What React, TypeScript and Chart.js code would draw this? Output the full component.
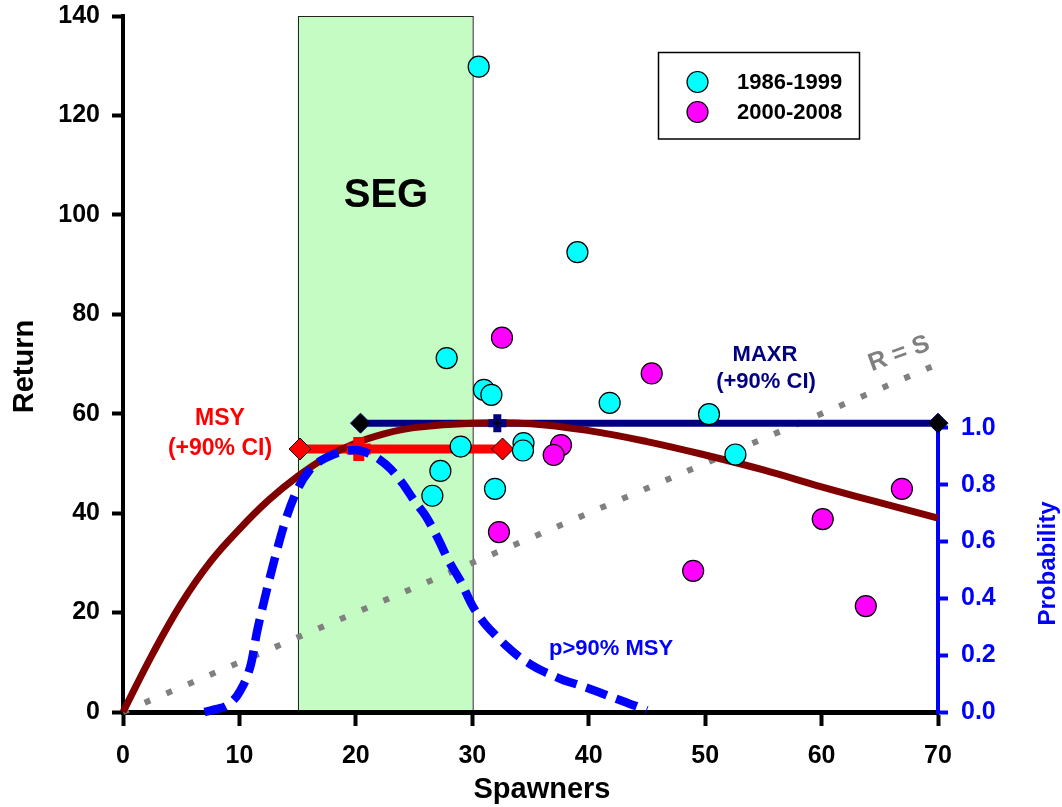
import React, { useEffect, useRef } from 'react';
import { Chart, registerables } from 'chart.js';

Chart.register(...registerables);

const FONT = '"Liberation Sans", Arial, Helvetica, sans-serif';

// Axis ticks
const spawnerTicks = [0, 10, 20, 30, 40, 50, 60, 70];
const returnTicks = [0, 20, 40, 60, 80, 100, 120, 140];
const probabilityTicks = [0, 0.2, 0.4, 0.6, 0.8, 1.0];
const probabilityAxisMax = 2.45;

// Observed brood years
const early = '1986-1999';
const earlySpawners = [30.55, 39.03, 27.8, 31.0, 31.64, 41.8, 50.33, 29.0, 34.4, 34.35, 27.26, 26.57, 31.95, 52.6];
const earlyReturns = [129.8, 92.5, 71.2, 64.8, 63.8, 62.2, 59.9, 53.4, 54.1, 52.6, 48.5, 43.5, 44.9, 51.8];
const late = '2000-2008';
const lateSpawners = [32.55, 45.41, 37.62, 36.99, 32.29, 48.97, 66.9, 60.1, 63.8];
const lateReturns = [75.3, 68.1, 53.7, 51.7, 36.2, 28.4, 44.9, 38.8, 21.3];

// Spawner-recruit curve
const curveSpawners = [0, 2.5, 5, 7.5, 10, 12.5, 15, 17.5, 20, 22.5, 25, 30, 35, 40, 45, 50, 55, 60, 65, 70];
const curveReturns = [0, 11.5, 21.8, 30.2, 36.8, 42.6, 47.4, 51.3, 54.1, 56, 57.2, 58.1, 58, 56.6, 54.4, 51.7, 48.7, 45.3, 42.1, 39];

// Probability of achieving >90% of MSY
const probSpawners = [7, 8, 9, 10, 11, 11.5, 12, 13, 14, 15, 16, 17, 18, 19, 20, 21, 22, 23, 24, 25, 26, 27, 28, 29, 30, 31, 32, 33, 34, 35, 36, 37, 38, 39, 40, 41, 42, 43, 44, 45];
const probValues = [0, 0.01, 0.025, 0.07, 0.17, 0.28, 0.37, 0.535, 0.68, 0.785, 0.85, 0.885, 0.905, 0.918, 0.922, 0.912, 0.89, 0.855, 0.805, 0.745, 0.69, 0.615, 0.53, 0.46, 0.375, 0.315, 0.27, 0.23, 0.195, 0.168, 0.145, 0.127, 0.11, 0.097, 0.083, 0.068, 0.052, 0.037, 0.022, 0.006];

// Replacement line R = S
const replacementSpawners = [0, 70];

// Reference points
const segRange = [15, 30];
const msySpawners = [15.2, 20.25, 32.6];
const msyReturn = 52.9;
const maxrSpawners = [20.4, 32.15, 70];
const maxrReturn = 58.1;

const pts = (xs: number[], ys: number[]) => xs.map((x, i) => ({ x, y: ys[i] }));
const flat = (xs: number[], v: number) => xs.map((x) => ({ x, y: v }));

const overlay = {
  id: 'overlay',
  beforeDraw(chart: any) {
    const { ctx, scales } = chart;
    const { x, y } = scales;
    const l = x.getPixelForValue(segRange[0]);
    const r = x.getPixelForValue(segRange[1]);
    const t = y.getPixelForValue(returnTicks[returnTicks.length - 1]);
    const b = y.getPixelForValue(0);
    ctx.save();
    ctx.fillStyle = '#c4fcc4';
    ctx.fillRect(l, t, r - l, b - t);
    ctx.strokeStyle = '#222';
    ctx.lineWidth = 1;
    ctx.strokeRect(Math.round(l) + 0.5, Math.round(t) + 0.5, r - l, b - t);
    ctx.fillStyle = '#000';
    ctx.font = `bold 40px ${FONT}`;
    ctx.textAlign = 'center';
    ctx.textBaseline = 'middle';
    ctx.fillText('SEG', (l + r) / 2 + 1, 196);
    ctx.restore();
  },
  beforeDatasetsDraw(chart: any) {
    const { ctx, scales, chartArea } = chart;
    const { y1 } = scales;
    ctx.save();
    ctx.strokeStyle = '#0000ff';
    ctx.lineWidth = 4;
    ctx.beginPath();
    ctx.moveTo(chartArea.right, y1.getPixelForValue(0) + 2);
    ctx.lineTo(chartArea.right, y1.getPixelForValue(1) - 2);
    ctx.stroke();
    ctx.restore();
  },
  afterDraw(chart: any) {
    const { ctx } = chart;
    ctx.save();
    // Axis titles
    ctx.fillStyle = '#000';
    ctx.font = `bold 29px ${FONT}`;
    ctx.textAlign = 'center';
    ctx.textBaseline = 'alphabetic';
    ctx.fillText('Spawners', 542, 798);
    ctx.save();
    ctx.translate(32.5, 366.5);
    ctx.rotate(-Math.PI / 2);
    ctx.fillText('Return', 0, 0);
    ctx.restore();
    ctx.save();
    ctx.fillStyle = '#0000ff';
    ctx.font = `bold 24px ${FONT}`;
    ctx.translate(1055, 563.5);
    ctx.rotate(-Math.PI / 2);
    ctx.fillText('Probability', 0, 0);
    ctx.restore();

    // Annotations
    ctx.textBaseline = 'middle';
    ctx.font = `bold 23px ${FONT}`;
    ctx.fillStyle = '#ff0000';
    ctx.fillText('MSY', 220, 419);
    ctx.fillText('(+90% CI)', 220, 449);
    ctx.font = `bold 22px ${FONT}`;
    ctx.fillStyle = '#000080';
    ctx.fillText('MAXR', 765, 354.5);
    ctx.fillText('(+90% CI)', 766, 381.5);
    ctx.fillStyle = '#0000ff';
    ctx.fillText('p>90% MSY', 611, 648.5);

    ctx.save();
    ctx.fillStyle = '#808080';
    ctx.font = `bold 25px ${FONT}`;
    ctx.translate(899, 354);
    ctx.rotate(-20 * Math.PI / 180);
    ctx.fillText('R = S', 0, 0);
    ctx.restore();

    // Legend
    ctx.fillStyle = '#fff';
    ctx.fillRect(658.5, 52.5, 201, 86.5);
    ctx.strokeStyle = '#000';
    ctx.lineWidth = 1.5;
    ctx.strokeRect(658.5, 52.5, 201, 86.5);
    const items = [
      { label: early, color: '#00ffff', y: 82 },
      { label: late, color: '#ff00ff', y: 112 },
    ];
    ctx.font = `bold 22px ${FONT}`;
    ctx.textAlign = 'left';
    for (const it of items) {
      ctx.beginPath();
      ctx.arc(697.5, it.y, 10.5, 0, Math.PI * 2);
      ctx.fillStyle = it.color;
      ctx.fill();
      ctx.lineWidth = 1.2;
      ctx.strokeStyle = '#000';
      ctx.stroke();
      ctx.fillStyle = '#000';
      ctx.fillText(it.label, 737, it.y + 0.5);
    }
    ctx.restore();
  },
};

export default function App() {
  const ref = useRef<HTMLCanvasElement>(null);

  useEffect(() => {
    if (!ref.current) return;
    const tickFont = { family: FONT, size: 25, weight: 'bold' as const };
    const noPad = (s: any) => {
      s.paddingTop = 0;
      s.paddingBottom = 0;
      s.paddingLeft = 0;
      s.paddingRight = 0;
    };
    const chart = new Chart(ref.current, {
      type: 'scatter',
      data: {
        datasets: [
          {
            type: 'scatter',
            label: early,
            data: pts(earlySpawners, earlyReturns),
            backgroundColor: '#00ffff',
            borderColor: '#000',
            borderWidth: 1.2,
            pointRadius: 10.5,
            order: 0,
            clip: false,
          },
          {
            type: 'scatter',
            label: late,
            data: pts(lateSpawners, lateReturns),
            backgroundColor: '#ff00ff',
            borderColor: '#000',
            borderWidth: 1.2,
            pointRadius: 10.5,
            order: 1,
            clip: false,
          },
          {
            type: 'line',
            label: 'p>90% MSY',
            yAxisID: 'y1',
            data: pts(probSpawners, probValues),
            borderColor: '#0000ff',
            borderWidth: 8.5,
            borderDash: [22, 10],
            pointRadius: 0,
            cubicInterpolationMode: 'monotone',
            order: 2,
            clip: false,
          },
          {
            type: 'scatter',
            label: 'MAXR CI',
            data: flat([maxrSpawners[0], maxrSpawners[2]], maxrReturn),
            pointStyle: 'rectRot',
            pointRadius: 10,
            backgroundColor: '#000',
            borderColor: '#000080',
            borderWidth: 1,
            order: 3,
            clip: false,
          },
          {
            type: 'scatter',
            label: 'MAXR inner',
            data: flat([maxrSpawners[1]], maxrReturn),
            pointStyle: 'cross',
            pointRadius: 4,
            borderColor: '#000',
            borderWidth: 2,
            order: 3.5,
            clip: false,
          },
          {
            type: 'scatter',
            label: 'MAXR',
            data: flat([maxrSpawners[1]], maxrReturn),
            pointStyle: 'cross',
            pointRadius: 9,
            borderColor: '#000080',
            borderWidth: 8,
            order: 4,
            clip: false,
          },
          {
            type: 'scatter',
            label: 'MSY CI',
            data: flat([msySpawners[0], msySpawners[2]], msyReturn),
            pointStyle: 'rectRot',
            pointRadius: 11,
            backgroundColor: '#ff0000',
            borderColor: '#000',
            borderWidth: 1,
            order: 5,
            clip: false,
          },
          {
            type: 'scatter',
            label: 'MSY',
            data: flat([msySpawners[1]], msyReturn),
            pointStyle: 'cross',
            pointRadius: 12,
            borderColor: '#ff0000',
            borderWidth: 11,
            order: 6,
            clip: false,
          },
          {
            type: 'line',
            label: 'Ricker',
            data: pts(curveSpawners, curveReturns),
            borderColor: '#800000',
            borderWidth: 7,
            pointRadius: 0,
            tension: 0.4,
            order: 7,
            clip: false,
          },
          {
            type: 'line',
            label: 'MAXR line',
            data: flat([maxrSpawners[0], maxrSpawners[2]], maxrReturn),
            borderColor: '#000080',
            borderWidth: 7,
            pointRadius: 0,
            order: 8,
            clip: false,
          },
          {
            type: 'line',
            label: 'MSY line',
            data: flat([msySpawners[0], msySpawners[2]], msyReturn),
            borderColor: '#ff0000',
            borderWidth: 9,
            pointRadius: 0,
            order: 9,
            clip: false,
          },
          {
            type: 'line',
            label: 'R = S',
            data: pts(replacementSpawners, replacementSpawners),
            borderColor: '#808080',
            borderWidth: 6,
            borderDash: [6, 17.6],
            pointRadius: 0,
            order: 10,
            clip: false,
          },
        ] as any,
      },
      options: {
        animation: false,
        responsive: false,
        devicePixelRatio: 1,
        layout: { autoPadding: false, padding: { top: 16, left: 0, right: 0, bottom: 0 } },
        plugins: { legend: { display: false }, tooltip: { enabled: false } },
        scales: {
          x: {
            type: 'linear',
            min: 0,
            max: 70,
            afterBuildTicks: (s: any) => { s.ticks = spawnerTicks.map((v) => ({ value: v })); },
            afterFit: (s: any) => { s.height = 95; noPad(s); },
            border: { display: true, color: '#000', width: 5 },
            grid: { display: true, drawOnChartArea: false, drawTicks: true, tickLength: 14, tickWidth: 4, tickColor: '#000' },
            ticks: { font: tickFont, color: '#000', padding: 15, maxRotation: 0, autoSkip: false },
          },
          y: {
            type: 'linear',
            position: 'left',
            min: 0,
            max: 140,
            afterBuildTicks: (s: any) => { s.ticks = returnTicks.map((v) => ({ value: v })); },
            afterFit: (s: any) => { s.width = 123; noPad(s); },
            border: { display: true, color: '#000', width: 4 },
            grid: { display: true, drawOnChartArea: false, drawTicks: true, tickLength: 11, tickWidth: 4, tickColor: '#000' },
            ticks: { font: tickFont, color: '#000', padding: 12, autoSkip: false },
          },
          y1: {
            type: 'linear',
            position: 'right',
            min: 0,
            max: probabilityAxisMax,
            afterBuildTicks: (s: any) => { s.ticks = probabilityTicks.map((v) => ({ value: v })); },
            afterFit: (s: any) => { s.width = 124; noPad(s); },
            border: { display: false },
            grid: { display: true, drawOnChartArea: false, drawTicks: true, tickLength: 10, tickWidth: 4, tickColor: '#0000ff', color: '#0000ff' },
            ticks: {
              font: tickFont,
              color: '#0000ff',
              padding: 13,
              autoSkip: false,
              callback: (v: any) => Number(v).toFixed(1),
            },
          },
        },
      } as any,
      plugins: [overlay],
    });
    return () => chart.destroy();
  }, []);

  return (
    <div style={{ position: 'absolute', left: 0, top: 0, width: 1062, height: 807, background: '#fff' }}>
      <canvas ref={ref} width={1062} height={807} style={{ display: 'block', width: 1062, height: 807 }} />
    </div>
  );
}
